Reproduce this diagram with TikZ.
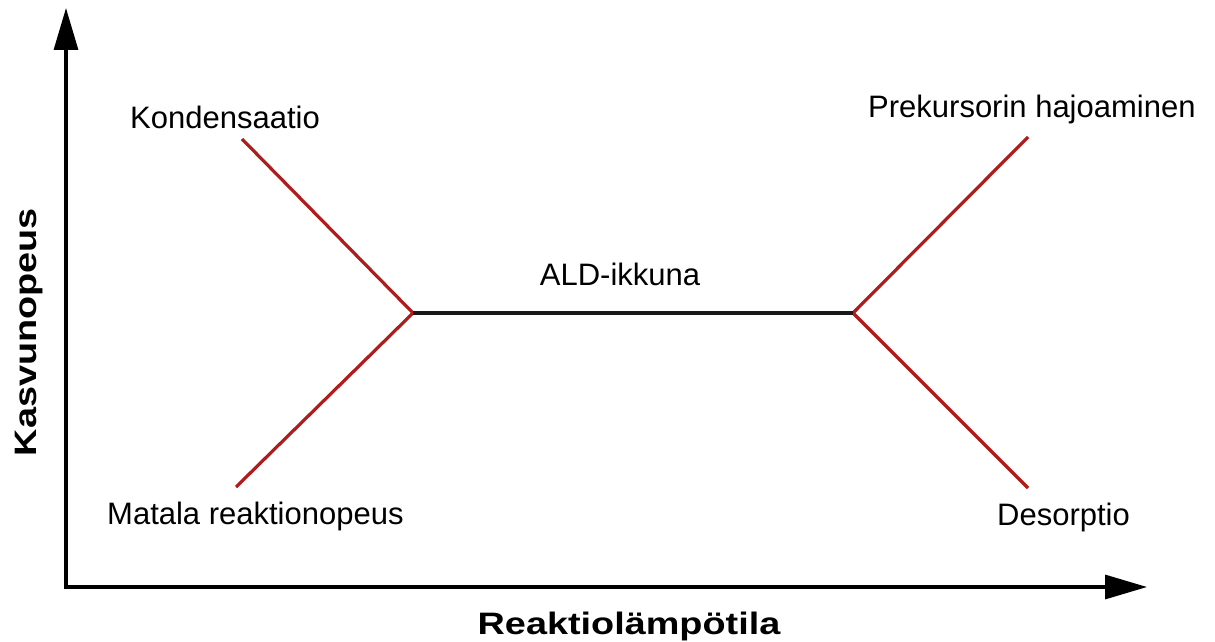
\documentclass[tikz,border=0pt]{standalone}
\usepackage{fontspec}
\setmainfont{Liberation Sans}
\usetikzlibrary{arrows.meta}
\definecolor{redline}{RGB}{175,28,28}
\tikzset{
  axis/.style={line width=3.2pt, -{Triangle[length=42pt,width=24pt]}},
  redseg/.style={line width=3.2pt, draw=redline},
  blackseg/.style={line width=3.5pt, draw=black!90},
  lbl/.style={inner sep=0pt, font=\fontsize{31}{37}\selectfont},
  axlbl/.style={inner sep=0pt, font=\fontsize{31}{37}\selectfont\bfseries}
}
\begin{document}
\begin{tikzpicture}[x=1pt,y=-1pt]
\useasboundingbox (0,0) rectangle (1215,642);
\coordinate (O) at (66,587);
\coordinate (ytip) at (66,8);
\coordinate (xtip) at (1147,587);
\draw[axis] ([yshift=-1.6pt]O) -- (ytip);
\draw[axis] ([xshift=-1.6pt]O) -- (xtip);
\coordinate (L) at (413,313);
\coordinate (R) at (853,313);
\coordinate (LU) at (242,139);
\coordinate (LD) at (236,487);
\coordinate (RU) at (1028,137);
\coordinate (RD) at (1028,488);
\draw[redseg, line join=miter] (LU) -- (L) -- (LD);
\draw[redseg, line join=miter] (RU) -- (R) -- (RD);
\draw[blackseg] (L) -- (R);
\node[lbl, anchor=base west] (kond) at (130,128) {Kondensaatio};
\node[lbl, anchor=base west] (prek) at (868,117) {Prekursorin hajoaminen};
\node[lbl, anchor=base west] (mat) at (107,524) {Matala reaktionopeus};
\node[lbl, anchor=base west] (des) at (997,525) {Desorptio};
\node[lbl, anchor=base] (ald) at (620,285) {ALD-ikkuna};
\node[axlbl, anchor=base] (xl) at (629,634) {\scalebox{1.22}[1]{Reaktiolämpötila}};
\node[axlbl, anchor=base, rotate=90] (yl) at (36,332) {\scalebox{1.22}[1]{Kasvunopeus}};
\end{tikzpicture}
\end{document}
